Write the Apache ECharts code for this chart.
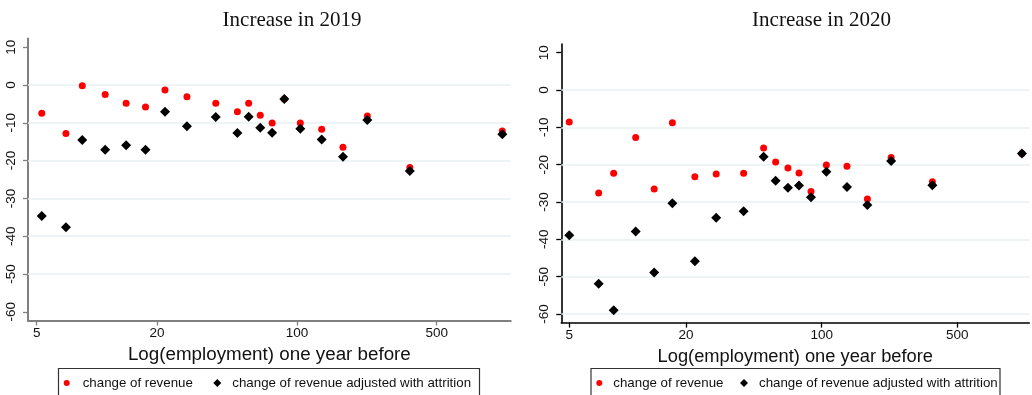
<!DOCTYPE html>
<html><head><meta charset="utf-8">
<script src="https://cdn.jsdelivr.net/npm/echarts@6/dist/echarts.min.js"></script>
<style>html,body{margin:0;padding:0;background:#fff}#c{width:1032px;height:395px}</style>
</head><body><div id="c"></div>
<script>
// ---- data ----
const emp2019 = [5.3, 7.0, 8.45, 11.0, 14.0, 17.5, 21.9, 28.2, 39.3, 50.4, 57.4, 65.6, 75.2, 86.5, 104, 133, 170, 225, 367, 1064];
const rev2019 = [-7.5, -12.8, -0.2, -2.5, -4.85, -5.8, -1.3, -3.1, -4.85, -7.1, -4.8, -8.0, -10.05, -3.7, -10.05, -11.7, -16.5, -8.2, -21.8, -12.2];
const adj2019 = [-34.65, -37.65, -14.55, -17.1, -15.96, -17.1, -7.05, -10.9, -8.47, -12.7, -8.38, -11.3, -12.6, -3.7, -11.6, -14.4, -18.97, -9.26, -22.75, -13.05];
const emp2020 = [5.0, 7.09, 8.47, 11.0, 13.7, 17.0, 22.2, 28.6, 39.6, 50.2, 57.9, 67.0, 76.4, 88.1, 105.7, 135, 172, 228, 372, 1077];
const rev2020 = [-8.58, -27.6, -22.3, -12.7, -26.5, -8.8, -23.2, -22.5, -22.3, -15.5, -19.3, -20.9, -22.25, -27.2, -20.1, -20.4, -29.2, -18.05, -24.6, -17.0];
const adj2020 = [-38.9, -51.9, -59.0, -37.9, -48.9, -30.3, -45.85, -34.2, -32.5, -17.9, -24.3, -26.2, -25.55, -28.7, -21.9, -26.0, -30.8, -19.0, -25.5, -17.0];
const xTicks = [5, 20, 100, 500];
const yTicks = [-60, -50, -40, -30, -20, -10, 0, 10];
const grid2019 = [0, -10, -20, -30, -40, -50];
const grid2020 = [0, -10, -20, -30, -40, -50, -60];
const titles = ['Increase in 2019', 'Increase in 2020'];
const xTitle = 'Log(employment) one year before';
const names = ['change of revenue', 'change of revenue adjusted with attrition'];

const lg = v => Math.log10(v);
const pts = (xs, ys) => xs.map((x, i) => [lg(x), ys[i]]);

function xAxis(idx, min, max, col, lw, nameSize) {
  return {
    gridIndex: idx, type: 'value', min: min, max: max,
    name: xTitle, nameLocation: 'middle', nameGap: 18,
    nameTextStyle: {fontFamily: 'Liberation Sans', fontSize: nameSize, color: '#111'},
    axisLine: {show: true, onZero: false, lineStyle: {color: col, width: lw}},
    axisTick: {show: true, length: 5, customValues: xTicks.map(lg), lineStyle: {color: col, width: 1.3}},
    axisLabel: {customValues: xTicks.map(lg), margin: 6, fontFamily: 'Liberation Sans', fontSize: 13.5, color: '#111',
      formatter: v => String(Math.round(Math.pow(10, v)))},
    splitLine: {show: false}
  };
}
function yAxis(idx, col, lw) {
  return {
    gridIndex: idx, type: 'value', min: -62.3, max: 12.3,
    axisLine: {show: true, onZero: false, lineStyle: {color: col, width: lw}},
    axisTick: {show: true, length: 5, customValues: yTicks, lineStyle: {color: col, width: 1.3}},
    axisLabel: {customValues: yTicks, rotate: 90, margin: 10, fontFamily: 'Liberation Sans', fontSize: 13.5, color: '#111'},
    splitLine: {show: false}
  };
}
function gridSeries(idx, vals) {
  return {type: 'scatter', xAxisIndex: idx, yAxisIndex: idx, data: [], z: 1, silent: true,
    markLine: {z: 1, silent: true, symbol: 'none', label: {show: false}, animation: false,
      lineStyle: {color: '#e8f0f2', width: 1.6, type: 'solid', opacity: 1},
      data: vals.map(v => ({yAxis: v}))}};
}
function redSeries(idx, xs, ys) {
  return {name: names[0], type: 'scatter', xAxisIndex: idx, yAxisIndex: idx, symbol: 'circle', symbolSize: 7,
    itemStyle: {color: '#ff0000', opacity: 1}, data: pts(xs, ys), z: 10};
}
function blackSeries(idx, xs, ys) {
  return {name: names[1], type: 'scatter', xAxisIndex: idx, yAxisIndex: idx, symbol: 'diamond', symbolSize: 10,
    itemStyle: {color: '#000000', opacity: 1}, data: pts(xs, ys), z: 11};
}
function legendItem(name, left, size, pad) {
  return {left: left, top: 383 - 9, padding: 0, orient: 'horizontal', itemWidth: size, itemHeight: size,
    selectedMode: false, data: [name],
    textStyle: {fontFamily: 'Liberation Sans', fontSize: 13.3, color: '#111', padding: [0, 0, 0, pad], lineHeight: 18}};
}

const chart = echarts.init(document.getElementById('c'), null, {renderer: 'canvas'});
chart.setOption({
  animation: false,
  backgroundColor: '#ffffff',
  title: [
    {text: titles[0], left: 287, textAlign: 'center', top: 5, textStyle: {fontFamily: 'Liberation Serif', fontSize: 21, fontWeight: 'normal', color: '#111'}},
    {text: titles[1], left: 816.5, textAlign: 'center', top: 5, textStyle: {fontFamily: 'Liberation Serif', fontSize: 21, fontWeight: 'normal', color: '#111'}}
  ],
  grid: [
    {left: 28, right: 521.3, top: 38.5, bottom: 74.5, containLabel: false},
    {left: 561.3, right: 2.7, top: 44.1, bottom: 72.4, containLabel: false}
  ],
  xAxis: [xAxis(0, 0.6555, 3.069, '#808080', 2, 18.8), xAxis(1, 0.658, 3.070, '#000000', 1.6, 18.3)],
  yAxis: [yAxis(0, '#808080', 2), yAxis(1, '#000000', 1.6)],
  legend: [
    legendItem(names[0], 63.7, 6, 8), legendItem(names[1], 213.3, 8, 6),
    legendItem(names[0], 596.3, 6, 6), legendItem(names[1], 740, 8, 6)
  ],
  graphic: [
    {type: 'rect', shape: {x: 58.5, y: 368.5, width: 421, height: 40}, style: {fill: 'none', stroke: '#333', lineWidth: 1.2}},
    {type: 'rect', shape: {x: 591, y: 368.5, width: 409, height: 40}, style: {fill: 'none', stroke: '#333', lineWidth: 1.2}}
  ],
  series: [
    gridSeries(0, grid2019), gridSeries(1, grid2020),
    redSeries(0, emp2019, rev2019), blackSeries(0, emp2019, adj2019),
    redSeries(1, emp2020, rev2020), blackSeries(1, emp2020, adj2020)
  ]
});
</script></body></html>
